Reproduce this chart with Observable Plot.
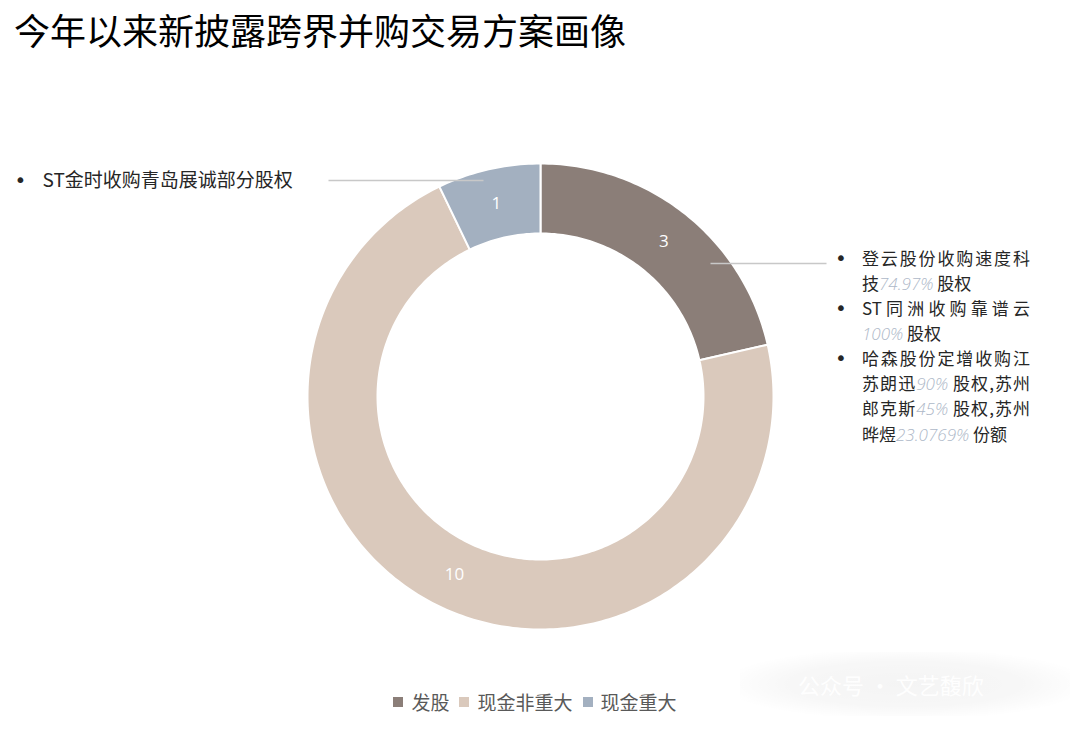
<!DOCTYPE html>
<html>
<head>
<meta charset="utf-8">
<script src="https://cdn.jsdelivr.net/npm/d3@7"></script>
<script src="https://cdn.jsdelivr.net/npm/@observablehq/plot@0.6"></script>
<style>
  html, body { margin: 0; padding: 0; background: #fff; }
  body { width: 1080px; height: 733px; position: relative; overflow: hidden;
         font-family: "Noto Sans CJK SC", "Noto Sans", sans-serif; }
  #title { position: absolute; left: 14px; top: 10px; font-size: 36px; line-height: 38px;
           color: #000; font-weight: 400; white-space: nowrap; }
  #chart { position: absolute; left: 0; top: 70px; }
  #right { position: absolute; left: 862px; top: 246px; width: 168px; font-size: 17px;
           line-height: 24.5px; color: #262626; }
  #right .j { text-align: justify; text-align-last: justify; white-space: nowrap; }
  #right .l { white-space: nowrap; }
  #right .pct { color: #AEB8C8; font-style: italic; font-weight: 300; font-family: "Open Sans", "Noto Sans", sans-serif; }
  .bullet { position: absolute; left: -27px; top: 0; font-size: 20px; font-family: "DejaVu Sans", sans-serif; }
  #legend { position: absolute; left: 0; top: 688px; width: 1080px; display: flex; justify-content: center;
            align-items: center; font-size: 19px; color: #595959; }
  #legend .sw { width: 10px; height: 10px; display: inline-block; margin-right: 8px; }
  #legend .it { display: flex; align-items: center; margin-right: 10px; }
  #wm { position: absolute; left: 740px; top: 652px; width: 330px; height: 64px;
        background: radial-gradient(ellipse at center, rgba(0,0,0,0.045) 0%, rgba(0,0,0,0.03) 50%, rgba(0,0,0,0) 80%);
        color: rgba(255,255,255,0.95); font-size: 22px; line-height: 64px; padding-left: 58px; box-sizing: border-box; }
</style>
</head>
<body>
<div id="title"></div>
<div id="chart"></div>
<div id="right"></div>
<div id="legend"></div>
<div id="wm">公众号 · 文艺馥欣</div>
<script>
// ---- data ----
const title = "今年以来新披露跨界并购交易方案画像";
const categories = ["发股", "现金非重大", "现金重大"];
const counts = [3, 10, 1];
const colors = ["#8B7E78", "#DAC9BC", "#A3B0C0"];
const leftNote = "ST金时收购青岛展诚部分股权";
const rightNotes = [
  [["j", "登云股份收购速度科"], ["l", "技", "74.97%", " 股权"]],
  [["j", "ST同洲收购靠谱云"], ["l", "", "100%", " 股权"]],
  [["j", "哈森股份定增收购江"], ["j", "苏朗迅", "90%", " 股权,苏州"], ["j", "郎克斯", "45%", " 股权,苏州"], ["l", "晔煜", "23.0769%", " 份额"]]
];

document.getElementById("title").textContent = title;

// ---- geometry (pixel units, center at 0,0) ----
const R = 233, r = 163;
const total = d3.sum(counts);
const slices = [];
const pts = [];
let acc = 0;
categories.forEach((c, i) => {
  const a0 = acc / total * 2 * Math.PI;
  acc += counts[i];
  const a1 = acc / total * 2 * Math.PI;
  slices.push({cat: c, count: counts[i], mid: (a0 + a1) / 2});
  const n = Math.max(4, Math.ceil((a1 - a0) / (2 * Math.PI) * 360));
  for (let k = 0; k <= n; k++) {
    const a = a0 + (a1 - a0) * k / n;
    pts.push({cat: c, x: R * Math.sin(a), y: R * Math.cos(a)});
  }
  for (let k = n; k >= 0; k--) {
    const a = a0 + (a1 - a0) * k / n;
    pts.push({cat: c, x: r * Math.sin(a), y: r * Math.cos(a)});
  }
});
const rm = (R + r) / 2;

const leaders = [
  {x1: -212, y1: 216, x2: -57, y2: 216},
  {x1: 170, y1: 133, x2: 286, y2: 133}
];

const chart = Plot.plot({
  width: 1080,
  height: 600,
  margin: 0,
  x: {domain: [-540, 540], axis: null},
  y: {domain: [-274, 326], axis: null},
  color: {domain: categories, range: colors},
  style: {fontFamily: "'Noto Sans CJK SC', 'Noto Sans', sans-serif", background: "transparent"},
  marks: [
    Plot.line(pts, {x: "x", y: "y", z: "cat", fill: "cat", stroke: "white", strokeWidth: 2, curve: "linear-closed"}),
    Plot.link(leaders, {x1: "x1", y1: "y1", x2: "x2", y2: "y2", stroke: "#C8C8C8", strokeWidth: 1.5}),
    Plot.text(slices, {x: d => rm * Math.sin(d.mid), y: d => rm * Math.cos(d.mid), text: d => String(d.count),
      fill: "white", fontSize: 17, fontFamily: "'Open Sans', sans-serif"}),
    Plot.text([leftNote], {x: -498, y: 216, text: d => d, textAnchor: "start", fontSize: 19, fill: "#262626"}),
    Plot.text(["•"], {x: -526, y: 216, text: d => d, textAnchor: "start", fontSize: 20, fill: "#262626",
      fontFamily: "'DejaVu Sans', sans-serif"})
  ]
});
document.getElementById("chart").appendChild(chart);

// ---- right annotation block ----
const right = document.getElementById("right");
rightNotes.forEach(item => {
  item.forEach((line, li) => {
    const div = document.createElement("div");
    div.className = line[0];
    div.style.position = "relative";
    if (li === 0) {
      const b = document.createElement("span");
      b.className = "bullet";
      b.textContent = "•";
      div.appendChild(b);
    }
    div.appendChild(document.createTextNode(line[1]));
    if (line.length > 2) {
      const p = document.createElement("span");
      p.className = "pct";
      p.textContent = line[2];
      div.appendChild(p);
      div.appendChild(document.createTextNode(line[3]));
    }
    right.appendChild(div);
  });
});

// ---- legend ----
const legend = document.getElementById("legend");
categories.forEach((c, i) => {
  const it = document.createElement("div");
  it.className = "it";
  const sw = document.createElement("span");
  sw.className = "sw";
  sw.style.background = colors[i];
  it.appendChild(sw);
  it.appendChild(document.createTextNode(c));
  legend.appendChild(it);
});
</script>
</body>
</html>
